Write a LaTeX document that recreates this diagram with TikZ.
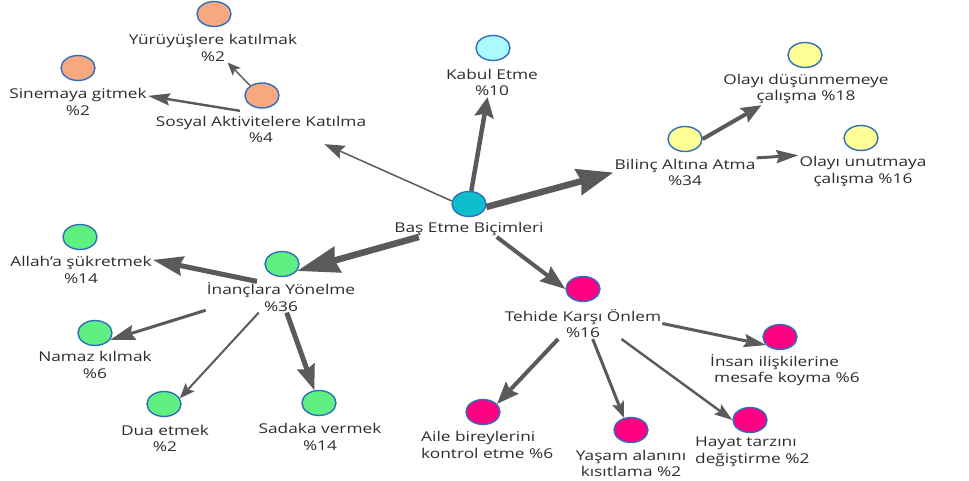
\documentclass[tikz,border=0pt]{standalone}
\usepackage{fontspec}
\setmainfont{Open Sans}[FakeStretch=1.28]
\usetikzlibrary{shapes.geometric,arrows.meta}
\definecolor{bordblue}{RGB}{47,110,186}
\definecolor{argray}{RGB}{90,90,90}
\definecolor{txt}{RGB}{45,45,45}
\definecolor{corange}{RGB}{248,168,128}
\definecolor{ccyan}{RGB}{170,250,255}
\definecolor{cteal}{RGB}{15,190,205}
\definecolor{cyellow}{RGB}{255,255,150}
\definecolor{cgreen}{RGB}{95,240,130}
\definecolor{cpink}{RGB}{255,0,130}
\tikzset{
  dot/.style={ellipse, draw=bordblue, line width=1.4pt, minimum width=34pt, minimum height=25pt, inner sep=0pt, fill=#1},
  lbl/.style={inner sep=1pt, align=center, text=txt, font=\fontsize{13.5}{16.5}\selectfont},
  ar/.style n args={3}{draw=argray, line width=#1, -{Stealth[length=#2, width=#3, inset=3pt, fill=argray]}},
}
\begin{document}
\begin{tikzpicture}[x=1pt,y=-1pt]
\fill[white] (0,0) rectangle (969,481);
\useasboundingbox (0,0) rectangle (969,481);

% circles
\node[dot=corange] (yur) at (214,14) {};
\node[dot=corange] (sin) at (78,68) {};
\node[dot=corange] (sos) at (262,95.5) {};
\node[dot=ccyan] (kab) at (493,48) {};
\node[dot=cteal] (c0) at (469,204) {};
\node[dot=cyellow] (bil) at (685,139) {};
\node[dot=cyellow] (od) at (805,55) {};
\node[dot=cyellow] (ou) at (861,138) {};
\node[dot=cgreen] (in) at (282,264) {};
\node[dot=cgreen] (al) at (80,237) {};
\node[dot=cgreen] (na) at (95,333) {};
\node[dot=cgreen] (du) at (164,404) {};
\node[dot=cgreen] (sa) at (319,403) {};
\node[dot=cpink] (te) at (583,289) {};
\node[dot=cpink] (is) at (780,337) {};
\node[dot=cpink] (ai) at (483,412) {};
\node[dot=cpink] (ya) at (631,430) {};
\node[dot=cpink] (ha) at (750,420) {};

% labels
\node[lbl] (yurL) at (213,48) {Yürüyüşlere katılmak\\\%2};
\node[lbl] (sinL) at (78,102) {Sinemaya gitmek\\\%2};
\node[lbl] (sosL) at (261,129.5) {Sosyal Aktivitelere Katılma\\\%4};
\node[lbl] (kabL) at (492,82.5) {Kabul Etme\\\%10};
\node[lbl] (c0L) at (469,229) {Baş Etme Biçimleri};
\node[lbl] (bilL) at (685,172.5) {Bilinç Altına Atma\\\%34};
\node[lbl] (odL) at (806,89) {Olayı düşünmemeye\\çalışma \%18};
\node[lbl] (ouL) at (863,171.5) {Olayı unutmaya\\çalışma \%16};
\node[lbl] (inL) at (281,297) {İnançlara Yönelme\\\%36};
\node[lbl] (alL) at (81,270) {Allah’a şükretmek\\\%14};
\node[lbl] (naL) at (95,365) {Namaz kılmak\\\%6};
\node[lbl] (duL) at (165,438.5) {Dua etmek\\\%2};
\node[lbl] (saL) at (320,437) {Sadaka vermek\\\%14};
\node[lbl] (teL) at (583,323.5) {Tehide Karşı Önlem\\\%16};
\node[lbl, align=left, anchor=west] (isL) at (709,370) {İnsan ilişkilerine\\\hspace*{4pt}mesafe koyma \%6};
\node[lbl, align=left, anchor=west] (aiL) at (420,445) {Aile bireylerini\\kontrol etme \%6};
\node[lbl] (yaL) at (631,463.5) {Yaşam alanını\\kısıtlama \%2};
\node[lbl, align=left, anchor=west] (haL) at (694,452) {Hayat tarzını\\değiştirme \%2};

% connectors
\draw[ar={1.4pt}{13pt}{11pt}] (sos.140) -- (yurL.-45);
\draw[ar={2.4pt}{22pt}{12pt}] ([xshift=-21pt,yshift=4pt]sosL.north) -- (sinL.5);
\draw[ar={1.5pt}{20pt}{14pt}] (c0.170) -- (sosL.-13);
\draw[ar={4.5pt}{20pt}{19pt}] (c0.80) -- (kabL.253);
\draw[ar={6.5pt}{36pt}{26pt}] (c0.-10) -- (bilL.west);
\draw[ar={4pt}{20pt}{16pt}] (bil.east) -- (odL.200);
\draw[ar={3pt}{22pt}{13pt}] (bilL.north east) -- (ouL.north west);
\draw[ar={6.5pt}{42pt}{26pt}] (c0L.189) -- (in.-25);
\draw[ar={5pt}{30pt}{19pt}] ([xshift=-24pt]inL.north) -- (alL.8);
\draw[ar={3pt}{25pt}{15pt}] (inL.190) -- (na.-25);
\draw[ar={2pt}{15pt}{12pt}] (inL.215) -- (du.20);
\draw[ar={5pt}{25pt}{18pt}] (inL.-70) -- (sa.110);
\draw[ar={4pt}{25pt}{18pt}] (c0L.-16) -- (te.west);
\draw[ar={3pt}{22pt}{13pt}] (teL.east) -- (is.210);
\draw[ar={4pt}{22pt}{17pt}] (teL.212) -- (ai.30);
\draw[ar={3pt}{16pt}{12pt}] (teL.-58) -- (ya.120);
\draw[ar={2.4pt}{18pt}{12pt}] (teL.-22) -- (ha.west);
\end{tikzpicture}
\end{document}
